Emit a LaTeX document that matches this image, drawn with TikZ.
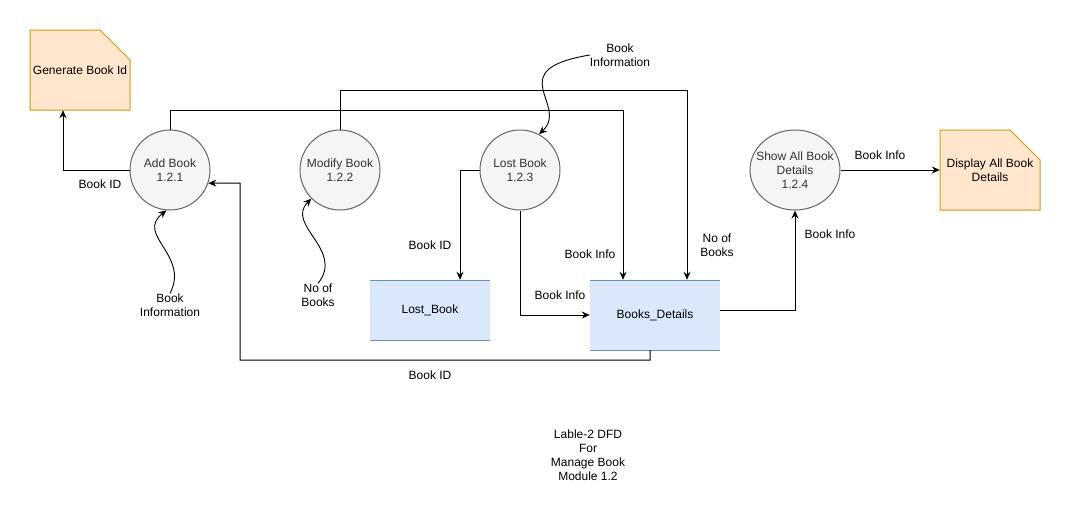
\documentclass[tikz,border=0pt]{standalone}
\usepackage{fontspec}
\setmainfont{Liberation Sans}
\usetikzlibrary{arrows.meta,shapes.geometric}
\definecolor{procfill}{HTML}{F5F5F5}
\definecolor{procline}{HTML}{666666}
\definecolor{proctext}{HTML}{333333}
\definecolor{extfill}{HTML}{FFE6CC}
\definecolor{extline}{HTML}{D79B00}
\definecolor{storefill}{HTML}{DAE8FC}
\definecolor{storeline}{HTML}{6C8EBF}
\tikzset{
  proc/.style={ellipse, draw=procline, fill=procfill, line width=1pt,
    minimum width=80pt, minimum height=80pt, inner sep=0pt},
  ptext/.style={text=proctext, align=center, inner sep=0pt, font=\fontsize{12}{14}\selectfont},
  lbl/.style={align=center, font=\fontsize{12}{14}\selectfont, inner sep=0pt},
  area/.style={minimum width=#1, inner sep=0pt, align=center, font=\fontsize{12}{14}\selectfont},
  arr/.style={draw=black, line width=1pt, -{Stealth[length=8pt,width=7pt]}},
  curv/.style={draw=black, line width=0.9pt, -{Stealth[length=8pt,width=7pt]}},
}
\begin{document}
\begin{tikzpicture}[x=1pt,y=-1pt]
\useasboundingbox (0,0) rectangle (1071,517);
% external entities (card shapes)
\filldraw[fill=extfill, draw=extline, line width=1pt] (30,30) -- (100,30) -- (130,60) -- (130,110) -- (30,110) -- cycle;
\node[area=100pt, minimum height=80pt] (gen) at (80,70) {Generate Book Id};
\filldraw[fill=extfill, draw=extline, line width=1pt] (940,130) -- (1010,130) -- (1040,160) -- (1040,210) -- (940,210) -- cycle;
\node[area=100pt, minimum height=80pt] (disp) at (990,170) {Display All Book\\Details};
% data stores
\fill[storefill] (370,280) rectangle (490,340);
\draw[storeline, line width=1pt] (370,280) -- (490,280) (370,340) -- (490,340);
\node[area=120pt, minimum height=60pt] (lost) at (430,310) {Lost\_Book};
\fill[storefill] (590,280) rectangle (720,350);
\draw[storeline, line width=1pt] (590,280) -- (720,280) (590,350) -- (720,350);
\node[area=130pt, minimum height=70pt] (bd) at (655,315) {Books\_Details};
% processes
\node[proc] (add) at (170,170) {};
\node[ptext] (addt) at (add.center) {Add Book\\1.2.1};
\node[proc] (mod) at (340,170) {};
\node[ptext] (modt) at (mod.center) {Modify Book\\1.2.2};
\node[proc] (lb) at (520,170) {};
\node[ptext] (lbt) at (lb.center) {Lost Book\\1.2.3};
\node[proc, minimum width=90pt] (show) at (795,170) {};
\node[ptext] (showt) at (show.center) {Show All Book\\Details\\1.2.4};
% waypoints
\coordinate (w1) at (170,110);
\coordinate (w2) at (340,90);
\coordinate (w3) at (460,170);
\coordinate (w4) at (520,315);
\coordinate (w5) at (650,360);
\coordinate (w6) at (240,183);
\coordinate (w7) at (63,170);
\coordinate (w8) at (796,310);
% connectors
\draw[arr] (add.west) -- (w7) -- (gen.south -| w7);
\draw[arr] (add.north) -- (w1) -| ([xshift=-32pt]bd.north);
\draw[arr] (mod.north) -- (w2) -| ([xshift=32pt]bd.north);
\draw[arr] (lb.west) -- (w3) -- (lost.north -| w3);
\draw[arr] (lb.south) -- (w4) -- (bd.west |- w4);
\draw[arr] ([xshift=-5pt]bd.south) -- (w5) -| (w6) -- (add.-19);
\draw[arr] (bd.east |- w8) -| (show.south);
\draw[arr] (show.east) -- (disp.west);
% labels
\node[lbl] (l1) at (100,184) {Book ID};
\node[lbl] (l2) at (430,245) {Book ID};
\node[lbl] (l3) at (590,254) {Book Info};
\node[lbl] (l4) at (717,245) {No of\\Books};
\node[lbl] (l5) at (560,295) {Book Info};
\node[lbl] (l6) at (430,375) {Book ID};
\node[lbl] (l7) at (830,234) {Book Info};
\node[lbl] (l8) at (880,155) {Book Info};
% curved inputs
\node[lbl] (bi1) at (170,305) {Book\\Information};
\node[lbl] (nob) at (318,295) {No of\\Books};
\node[lbl] (bi2) at (620,55) {Book\\Information};
\draw[curv] (bi1.north) .. controls (190,255) and (135,235) .. (add.265);
\draw[curv] (nob.north) .. controls (345,250) and (285,225) .. (mod.225);
\draw[curv] (bi2.west) .. controls (500,70) and (570,105) .. (lb.62);
% caption
\node[lbl] (cap) at (588,455) {Lable-2 DFD\\For\\Manage Book\\Module 1.2};
\end{tikzpicture}
\end{document}
